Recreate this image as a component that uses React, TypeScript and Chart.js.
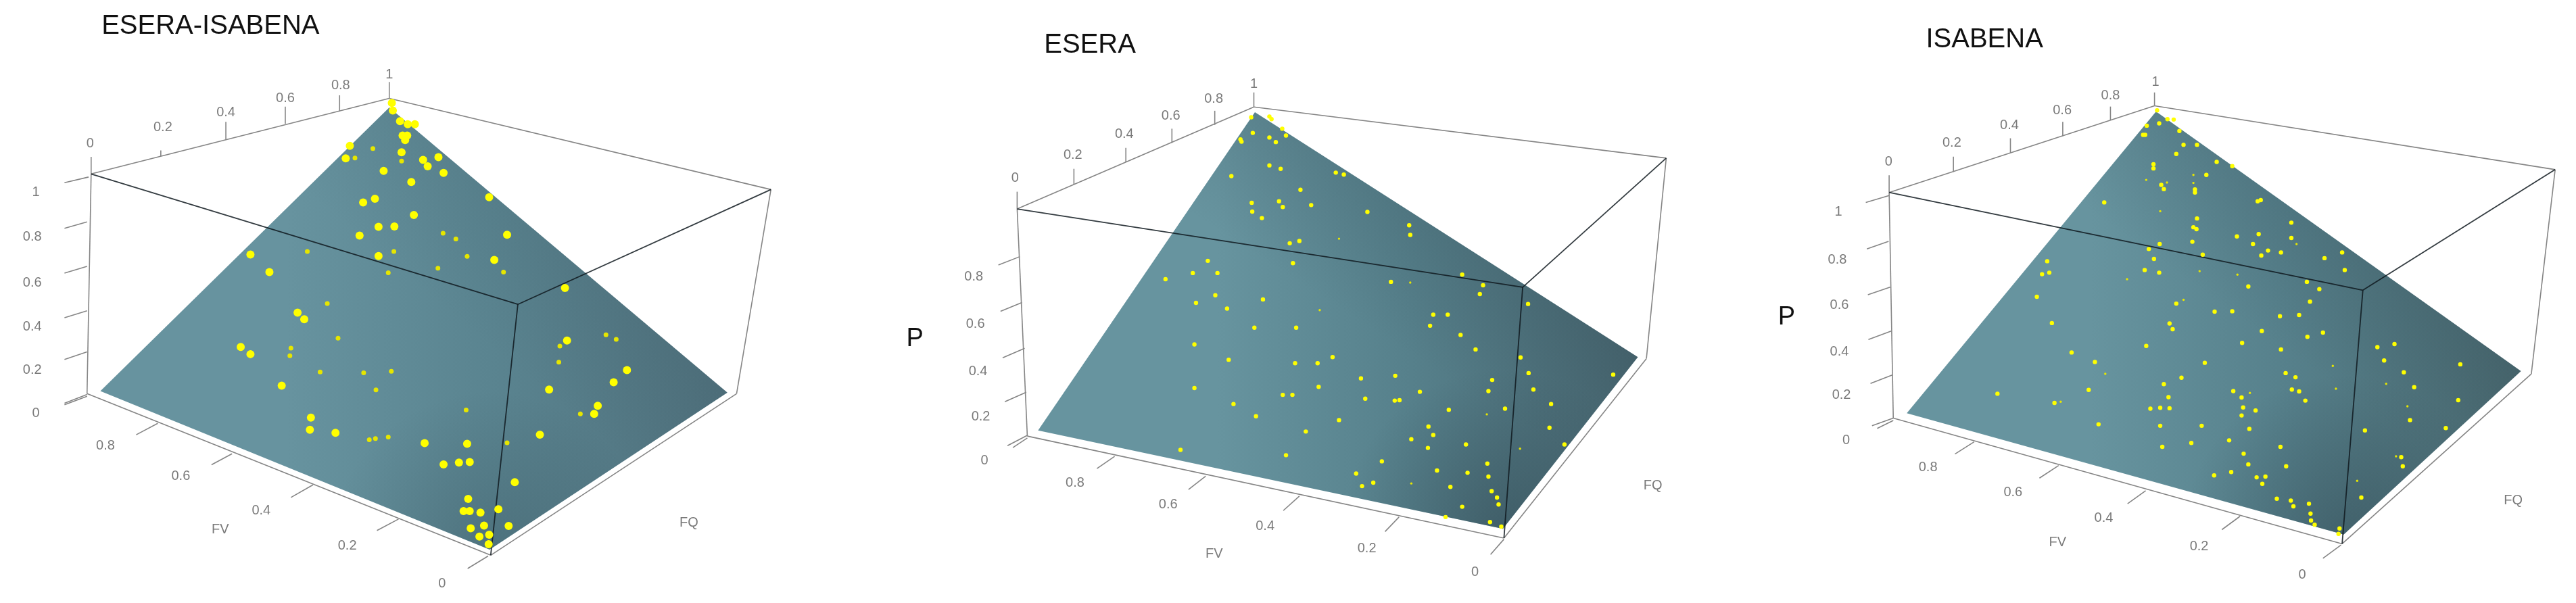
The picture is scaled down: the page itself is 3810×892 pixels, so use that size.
import React, { useEffect, useRef } from "react";
import { Chart, registerables } from "chart.js";

Chart.register(...registerables);

type Pt = [number, number];
type Seg = [number, number, number, number];

const TICKS_P = ["0", "0.2", "0.4", "0.6", "0.8", "1"];
const TICKS_FQ = ["0", "0.2", "0.4", "0.6", "0.8", "1"];
const TICKS_FV = ["0.8", "0.6", "0.4", "0.2", "0"];

// ---- ESERA-ISABENA (projected picture coordinates of the plot)
const A_SURFACE: Pt[] = [[752, 272], [188, 1018], [948, 1435], [1412, 1022], [752, 272]];
const A_BACK: Seg[] = [[170, 447, 752, 248], [752, 248, 1497, 488], [170, 447, 162, 1025], [1497, 488, 1430, 1025], [162, 1025, 950, 1450], [950, 1450, 1430, 1025]];
const A_FRONT: Seg[] = [[170, 447, 1003, 790], [1003, 790, 1497, 488], [1003, 790, 950, 1450]];
const A_TICKS: Seg[] = [
  [165, 455, 118, 470], [162, 573, 118, 590], [162, 690, 118, 708], [162, 807, 118, 825], [162, 915, 118, 935], [162, 1027, 118, 1050], [162, 1032, 118, 1054],
  [170, 447, 170, 402], [306, 400, 306, 385], [433, 356, 433, 310], [549, 315, 549, 270], [655, 282, 655, 240], [752, 248, 752, 205],
  [300, 1103, 258, 1133], [445, 1183, 405, 1212], [603, 1265, 560, 1298], [770, 1355, 728, 1385], [945, 1452, 905, 1485],
];
const A_P_POS: Pt[] = [[62, 1077], [55, 963], [55, 850], [55, 733], [55, 613], [62, 495]];
const A_FQ_POS: Pt[] = [[168, 368], [310, 325], [433, 285], [549, 248], [657, 215], [752, 185]];
const A_FV_POS: Pt[] = [[198, 1163], [345, 1243], [502, 1333], [670, 1425], [855, 1525]];
const A_BIG: Pt[] = [[757, 260], [759, 280], [773, 308], [788, 316], [802, 316], [778, 346], [787, 346], [783, 358], [675, 373], [667, 406], [776, 390], [818, 410], [848, 403], [827, 427], [741, 439], [858, 444], [795, 468], [947, 508], [724, 512], [701, 522], [800, 555], [731, 586], [762, 585], [694, 609], [982, 607], [731, 663], [957, 673], [481, 659], [518, 705], [1095, 747], [573, 812], [586, 829], [1099, 885], [462, 902], [481, 921], [1216, 963], [1190, 995], [542, 1004], [1064, 1014], [1159, 1057], [1152, 1078], [599, 1088], [597, 1120], [647, 1128], [1046, 1133], [821, 1155], [904, 1157], [858, 1211], [888, 1206], [909, 1205], [997, 1258], [906, 1302], [897, 1334], [909, 1334], [930, 1338], [965, 1329], [937, 1372], [911, 1379], [985, 1373], [928, 1401], [947, 1396], [946, 1421]];
const A_SMALL: Pt[] = [[685, 405], [776, 413], [592, 651], [761, 651], [857, 603], [882, 618], [904, 664], [847, 695], [975, 705], [750, 707], [631, 788], [652, 879], [560, 905], [558, 925], [617, 968], [756, 966], [726, 1015], [902, 1068], [1175, 870], [1195, 882], [1085, 900], [1083, 942], [1125, 1078], [713, 1146], [725, 1143], [750, 1139], [982, 1154], [720, 380], [702, 970]];

// ---- ESERA
const B_SURFACE: Pt[] = [[697, 287], [292, 1120], [1160, 1378], [1412, 928], [697, 287]];
const B_BACK: Seg[] = [[253, 540, 695, 273], [695, 273, 1465, 407], [253, 540, 272, 1135], [1465, 407, 1428, 932], [272, 1135, 1162, 1402], [1162, 1402, 1428, 932]];
const B_FRONT: Seg[] = [[253, 540, 1197, 745], [1197, 745, 1465, 407], [1197, 745, 1162, 1402]];
const B_TICKS: Seg[] = [
  [258, 665, 218, 687], [262, 785, 222, 808], [267, 905, 226, 930], [270, 1020, 230, 1045], [272, 1133, 235, 1160], [272, 1140, 245, 1165],
  [253, 540, 253, 495], [359, 476, 359, 435], [456, 418, 456, 380], [542, 367, 542, 330], [622, 320, 622, 283], [695, 273, 695, 235],
  [435, 1188, 402, 1220], [605, 1240, 573, 1275], [780, 1292, 750, 1330], [966, 1347, 940, 1385], [1162, 1405, 1137, 1445],
];
const B_P_POS: Pt[] = [[192, 1200], [185, 1085], [180, 965], [175, 842], [172, 718]];
const B_FQ_POS: Pt[] = [[249, 460], [357, 400], [453, 345], [540, 297], [620, 253], [695, 213]];
const B_FV_POS: Pt[] = [[361, 1258], [535, 1315], [716, 1372], [906, 1430], [1108, 1492]];
const B_BIG: Pt[] = [[690, 300], [724, 298], [728, 305], [748, 330], [755, 348], [693, 341], [724, 353], [736, 365], [670, 358], [672, 364], [724, 426], [745, 435], [653, 454], [848, 445], [863, 450], [782, 490], [691, 524], [742, 520], [749, 535], [802, 530], [692, 547], [710, 564], [907, 548], [985, 583], [987, 608], [762, 630], [780, 624], [768, 682], [609, 676], [581, 708], [627, 708], [530, 724], [951, 731], [1084, 712], [1123, 740], [1117, 763], [623, 766], [712, 777], [587, 786], [645, 801], [1207, 789], [1030, 817], [1057, 817], [1024, 846], [696, 851], [774, 851], [1081, 870], [584, 895], [1109, 908], [1193, 929], [648, 935], [772, 944], [814, 944], [842, 928], [1208, 970], [959, 977], [895, 984], [1140, 988], [1366, 974], [584, 1009], [816, 1006], [1133, 1017], [1217, 1013], [1005, 1019], [749, 1027], [767, 1027], [903, 1037], [958, 1042], [967, 1041], [657, 1051], [1250, 1051], [1059, 1066], [1164, 1063], [699, 1083], [854, 1093], [1021, 1110], [1247, 1113], [792, 1123], [1030, 1132], [989, 1143], [1091, 1157], [1275, 1157], [1020, 1166], [558, 1171], [755, 1185], [934, 1201], [1131, 1207], [1037, 1225], [1094, 1231], [886, 1233], [1133, 1241], [918, 1257], [897, 1266], [1062, 1268], [1139, 1279], [1149, 1296], [1152, 1314], [1084, 1320], [1053, 1347], [1136, 1360], [1157, 1372]];
const B_SMALL: Pt[] = [[854, 618], [987, 733], [818, 805], [1130, 1078], [1192, 1168], [989, 1259]];

// ---- ISABENA
const C_SURFACE: Pt[] = [[763, 285], [282, 1075], [1125, 1393], [1467, 965], [763, 285]];
const C_BACK: Seg[] = [[248, 497, 760, 270], [760, 270, 1533, 437], [248, 497, 256, 1088], [1533, 437, 1487, 972], [256, 1088, 1122, 1417], [1122, 1417, 1487, 972]];
const C_FRONT: Seg[] = [[248, 497, 1162, 753], [1162, 753, 1533, 437], [1162, 753, 1122, 1417]];
const C_TICKS: Seg[] = [
  [248, 505, 203, 523], [247, 625, 205, 645], [250, 745, 207, 765], [252, 860, 208, 882], [254, 975, 212, 997], [256, 1088, 215, 1108], [256, 1094, 225, 1115],
  [248, 497, 248, 452], [372, 443, 372, 403], [482, 393, 482, 355], [583, 349, 583, 312], [675, 308, 675, 272], [760, 270, 760, 235],
  [412, 1150, 375, 1182], [575, 1212, 538, 1245], [743, 1278, 708, 1312], [925, 1345, 890, 1380], [1120, 1420, 1085, 1455],
];
const C_P_POS: Pt[] = [[165, 1147], [156, 1028], [152, 914], [152, 793], [148, 673], [150, 548]];
const C_FQ_POS: Pt[] = [[247, 417], [369, 368], [480, 322], [582, 283], [675, 243], [762, 208]];
const C_FV_POS: Pt[] = [[323, 1217], [487, 1282], [662, 1350], [846, 1425], [1045, 1498]];
const C_BIG: Pt[] = [[765, 282], [785, 305], [797, 306], [745, 322], [769, 316], [808, 336], [738, 346], [742, 346], [816, 372], [842, 372], [802, 396], [880, 417], [910, 428], [758, 423], [758, 434], [860, 451], [773, 477], [778, 488], [838, 489], [838, 497], [959, 520], [965, 517], [663, 523], [842, 565], [1024, 576], [835, 588], [841, 593], [919, 612], [961, 606], [1024, 616], [770, 632], [833, 626], [950, 632], [979, 649], [966, 662], [1004, 654], [749, 645], [853, 660], [1122, 654], [1088, 669], [759, 671], [553, 677], [741, 700], [769, 707], [1127, 700], [543, 711], [557, 707], [941, 743], [1054, 731], [1078, 750], [533, 770], [802, 788], [1060, 783], [876, 809], [910, 808], [1002, 821], [1039, 818], [562, 839], [789, 840], [795, 855], [967, 860], [1085, 864], [1055, 875], [929, 891], [744, 899], [1190, 902], [1223, 894], [1004, 908], [600, 916], [645, 941], [857, 943], [1203, 937], [1350, 947], [1241, 968], [1013, 970], [1032, 981], [812, 982], [778, 999], [1261, 1007], [633, 1014], [912, 1017], [1025, 1013], [1039, 1018], [928, 1034], [787, 1033], [1051, 1042], [1346, 1041], [567, 1048], [457, 1024], [752, 1063], [771, 1061], [789, 1062], [931, 1060], [955, 1068], [928, 1081], [1253, 1093], [652, 1104], [771, 1108], [851, 1108], [943, 1116], [1322, 1114], [1166, 1120], [904, 1146], [831, 1153], [775, 1163], [1003, 1163], [932, 1181], [1236, 1190], [941, 1209], [1014, 1214], [1239, 1214], [908, 1229], [875, 1238], [957, 1243], [974, 1241], [968, 1260], [1159, 1296], [996, 1299], [1023, 1304], [1028, 1319], [1058, 1312], [1061, 1338], [1062, 1356], [1069, 1367], [1117, 1377], [1115, 1391]];
const C_SMALL: Pt[] = [[835, 451], [835, 472], [744, 464], [784, 471], [771, 546], [1034, 632], [847, 703], [707, 724], [920, 712], [816, 778], [1104, 951], [665, 972], [1207, 998], [944, 1022], [1110, 1011], [579, 1045], [1248, 1057], [1226, 1188], [1151, 1252]];

const PANELS = [
  { left: 0, width: 1200, title: "ESERA-ISABENA", titlePos: [403, 58] as Pt, axisP: null as Pt | null, surface: A_SURFACE, back: A_BACK, front: A_FRONT, ticks: A_TICKS, pPos: A_P_POS, fqPos: A_FQ_POS, fvPos: A_FV_POS, fvTitle: [422, 1383] as Pt, fqTitle: [1337, 1365] as Pt, big: A_BIG, small: A_SMALL, r: 6, rs: 3.5, shade: ["#67939f", "#5a8490", "#4f707c"], cornerA: 0.25, ridgeA: 0.1 },
  { left: 1300, width: 1250, title: "ESERA", titlePos: [389, 112] as Pt, axisP: [62, 880] as Pt | null, surface: B_SURFACE, back: B_BACK, front: B_FRONT, ticks: B_TICKS, pPos: B_P_POS, fqPos: B_FQ_POS, fvPos: B_FV_POS, fvTitle: [621, 1443] as Pt, fqTitle: [1440, 1265] as Pt, big: B_BIG, small: B_SMALL, r: 3.2, rs: 1.7, shade: ["#67949f", "#56808b", "#47656f"], cornerA: 0.4, ridgeA: 0.2 },
  { left: 2600, width: 1210, title: "ISABENA", titlePos: [432, 98] as Pt, axisP: [50, 825] as Pt | null, surface: C_SURFACE, back: C_BACK, front: C_FRONT, ticks: C_TICKS, pPos: C_P_POS, fqPos: C_FQ_POS, fvPos: C_FV_POS, fvTitle: [573, 1413] as Pt, fqTitle: [1452, 1303] as Pt, big: C_BIG, small: C_SMALL, r: 3.2, rs: 1.7, shade: ["#67949f", "#56808b", "#49686f"], cornerA: 0.4, ridgeA: 0.2 },
];

const HEIGHT = 892;
const UNITS_X = 1568;
const UNITS_Y = 1565;

function toXY(p: Pt[]) {
  return p.map(([x, y]) => ({ x, y }));
}

function Panel({ panel }: { panel: (typeof PANELS)[number] }) {
  const ref = useRef<HTMLCanvasElement | null>(null);
  useEffect(() => {
    const canvas = ref.current!;
    const ctx = canvas.getContext("2d")!;
    const px = (x: number) => (x / UNITS_X) * panel.width;
    const py = (y: number) => (y / UNITS_Y) * HEIGHT;
    const [apex, leftC, bottom, rightC] = panel.surface;

    const base = ctx.createLinearGradient(px(leftC[0]), 0, px(rightC[0]), 0);
    base.addColorStop(0, panel.shade[0]);
    base.addColorStop(0.3, panel.shade[0]);
    base.addColorStop(0.62, panel.shade[1]);
    base.addColorStop(1, panel.shade[2]);

    const corner = ctx.createRadialGradient(px(bottom[0]), py(bottom[1]), 0, px(bottom[0]), py(bottom[1]), 240);
    corner.addColorStop(0, `rgba(40,60,70,${panel.cornerA})`);
    corner.addColorStop(1, "rgba(40,60,70,0)");

    // darkening that falls away from the apex-right edge of the surface
    const ex = px(rightC[0]) - px(apex[0]);
    const ey = py(rightC[1]) - py(apex[1]);
    const len = Math.hypot(ex, ey);
    const nx = -ey / len;
    const ny = ex / len;
    const mx = (px(apex[0]) + px(rightC[0])) / 2;
    const my = (py(apex[1]) + py(rightC[1])) / 2;
    const ridge = ctx.createLinearGradient(mx, my, mx + nx * 180, my + ny * 180);
    ridge.addColorStop(0, `rgba(50,75,85,${panel.ridgeA})`);
    ridge.addColorStop(1, "rgba(50,75,85,0)");

    const line = (s: Seg, color: string, w: number) => ({
      type: "scatter" as const,
      data: [{ x: s[0], y: s[1] }, { x: s[2], y: s[3] }],
      showLine: true,
      borderColor: color,
      borderWidth: w,
      pointRadius: 0,
      tension: 0,
    });
    const poly = (bg: any) => ({
      type: "scatter" as const,
      data: toXY(panel.surface),
      showLine: true,
      fill: "shape",
      backgroundColor: bg,
      borderWidth: 0,
      borderColor: "transparent",
      pointRadius: 0,
      tension: 0,
    });
    const dots = (pts: Pt[], r: number, color: string) => ({
      type: "scatter" as const,
      data: toXY(pts),
      showLine: false,
      pointRadius: r,
      pointBackgroundColor: color,
      pointBorderWidth: 0,
    });

    const layers: any[] = [
      ...panel.back.map((s) => line(s, "#858585", 1.6)),
      ...panel.ticks.map((s) => line(s, "#858585", 1.6)),
      poly(base),
      poly(ridge),
      poly(corner),
      ...panel.front.map((s) => line(s, "rgba(15,25,30,0.85)", 1.8)),
      dots(panel.small, panel.rs, "#e6e600"),
      dots(panel.big, panel.r, "#ffff00"),
    ];
    layers.forEach((d, i) => (d.order = layers.length - i));

    const texts: { t: string; p: Pt; font: string; color: string }[] = [];
    const tickFont = '20px "Liberation Sans"';
    const grey = "#7a7a7a";
    const pLabels = TICKS_P.slice(0, panel.pPos.length);
    pLabels.forEach((t, i) => texts.push({ t, p: panel.pPos[i], font: tickFont, color: grey }));
    TICKS_FQ.forEach((t, i) => texts.push({ t, p: panel.fqPos[i], font: tickFont, color: grey }));
    TICKS_FV.forEach((t, i) => texts.push({ t, p: panel.fvPos[i], font: tickFont, color: grey }));
    texts.push({ t: "FV", p: panel.fvTitle, font: tickFont, color: grey });
    texts.push({ t: "FQ", p: panel.fqTitle, font: tickFont, color: grey });
    texts.push({ t: panel.title, p: panel.titlePos, font: '40px "Liberation Sans"', color: "#111111" });
    if (panel.axisP) texts.push({ t: "P", p: panel.axisP, font: '38px "Liberation Sans"', color: "#111111" });

    const textPlugin = {
      id: "panelText",
      afterDraw(chart: any) {
        const c = chart.ctx;
        c.save();
        c.textAlign = "center";
        c.textBaseline = "middle";
        for (const { t, p, font, color } of texts) {
          c.font = font;
          c.fillStyle = color;
          c.fillText(t, chart.scales.x.getPixelForValue(p[0]), chart.scales.y.getPixelForValue(p[1]));
        }
        c.restore();
      },
    };

    const chart = new Chart(canvas, {
      type: "scatter",
      data: { datasets: layers },
      options: {
        animation: false,
        responsive: false,
        layout: { padding: 0 },
        plugins: { legend: { display: false }, tooltip: { enabled: false }, title: { display: false } },
        scales: {
          x: { type: "linear", min: 0, max: UNITS_X, display: false },
          y: { type: "linear", min: 0, max: UNITS_Y, reverse: true, display: false },
        },
      },
      plugins: [textPlugin],
    } as any);
    return () => chart.destroy();
  }, [panel]);
  return (
    <canvas
      ref={ref}
      width={panel.width}
      height={HEIGHT}
      style={{ position: "absolute", left: panel.left, top: 0, width: panel.width, height: HEIGHT, display: "block", filter: "blur(0.7px)" }}
    />
  );
}

export default function App() {
  return (
    <div style={{ position: "absolute", left: 0, top: 0, width: 3810, height: HEIGHT, background: "#fff", overflow: "hidden" }}>
      {PANELS.map((p) => (
        <Panel key={p.title} panel={p} />
      ))}
    </div>
  );
}
